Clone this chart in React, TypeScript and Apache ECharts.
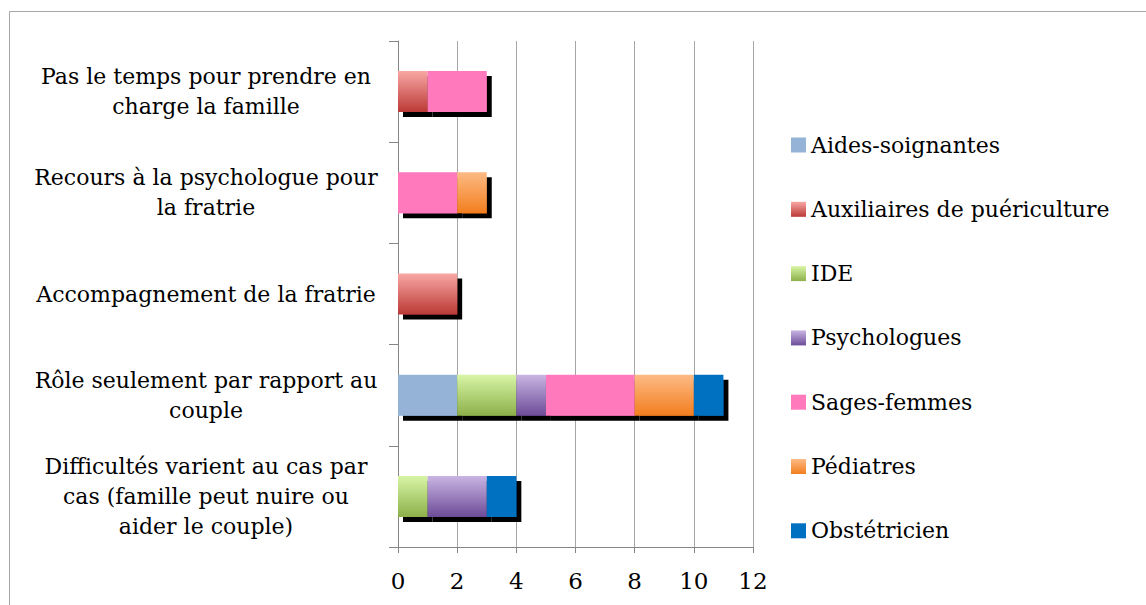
import React, { useEffect, useRef } from "react";
import * as echarts from "echarts";

const categories = [
  "Difficultés varient au cas par\ncas (famille peut nuire ou\naider le couple)",
  "Rôle seulement par rapport au\ncouple",
  "Accompagnement de la fratrie",
  "Recours à la psychologue pour\nla fratrie",
  "Pas le temps pour prendre en\ncharge la famille",
];

const seriesNames = [
  "Aides-soignantes",
  "Auxiliaires de puériculture",
  "IDE",
  "Psychologues",
  "Sages-femmes",
  "Pédiatres",
  "Obstétricien",
];

const aidesSoignantes = [0, 2, 0, 0, 0];
const auxiliaires = [0, 0, 2, 0, 1];
const ide = [1, 2, 0, 0, 0];
const psychologues = [2, 1, 0, 0, 0];
const sagesFemmes = [0, 3, 0, 2, 2];
const pediatres = [0, 2, 0, 1, 0];
const obstetricien = [1, 1, 0, 0, 0];

const valueTicks = [0, 2, 4, 6, 8, 10, 12];

const FONT = "DejaVu Serif";

const grad = (top: string, bottom: string) =>
  new echarts.graphic.LinearGradient(0, 0, 0, 1, [
    { offset: 0, color: top },
    { offset: 1, color: bottom },
  ]);

export default function App() {
  const ref = useRef<HTMLDivElement>(null);
  useEffect(() => {
    if (!ref.current) return;
    const chart = echarts.init(ref.current, null, { renderer: "svg" });
    const colors = [
      "#95B3D7",
      grad("#F8A7A4", "#BB3935"),
      grad("#D8F5A6", "#8DB04A"),
      grad("#C9B5E3", "#6C4C98"),
      "#FF79BC",
      grad("#FDBA85", "#F27E1E"),
      "#0070C0",
    ];
    const datas = [aidesSoignantes, auxiliaires, ide, psychologues, sagesFemmes, pediatres, obstetricien];
    chart.setOption({
      animation: false,
      backgroundColor: "#ffffff",
      graphic: [
        {
          type: "rect",
          shape: { x: 9.5, y: 11.5, width: 1150, height: 610 },
          style: { fill: "none", stroke: "#A6A6A6", lineWidth: 1 },
          silent: true,
        },
      ],
      grid: { left: 398, top: 41, width: 355, height: 506, containLabel: false },
      legend: {
        orient: "vertical",
        left: 786,
        top: 129,
        itemWidth: 15,
        itemHeight: 15,
        itemGap: 42.3,
        icon: "rect",
        textStyle: { fontFamily: FONT, fontSize: 22, color: "#000", lineHeight: 22 },
        data: seriesNames,
      },
      xAxis: {
        type: "value",
        min: valueTicks[0],
        max: valueTicks[valueTicks.length - 1],
        interval: 2,
        axisLine: { show: true, lineStyle: { color: "#868686", width: 1 } },
        axisTick: { show: true, length: 6, lineStyle: { color: "#868686" } },
        axisLabel: { fontFamily: FONT, fontSize: 23, color: "#000", margin: 22 },
        splitLine: { show: true, lineStyle: { color: "#A6A6A6", width: 1 } },
      },
      yAxis: {
        type: "category",
        data: categories,
        axisLine: { show: true, lineStyle: { color: "#868686", width: 1 } },
        axisTick: { show: true, length: 9, alignWithLabel: false, lineStyle: { color: "#868686" } },
        axisLabel: {
          fontFamily: FONT,
          fontSize: 22,
          color: "#000",
          align: "center",
          margin: 192,
          lineHeight: 30,
        },
      },
      series: seriesNames.map((name, i) => ({
        name,
        type: "bar",
        stack: "total",
        barWidth: 41,
        data: datas[i].map((v) => (v === 0 ? null : v)),
        itemStyle: {
          color: colors[i],
          shadowColor: "#000",
          shadowBlur: 0,
          shadowOffsetX: 5,
          shadowOffsetY: 5,
        },
      })),
    });
    return () => chart.dispose();
  }, []);
  return (
    <div
      ref={ref}
      style={{ position: "fixed", left: 0, top: 0, width: 1146, height: 605 }}
    />
  );
}
